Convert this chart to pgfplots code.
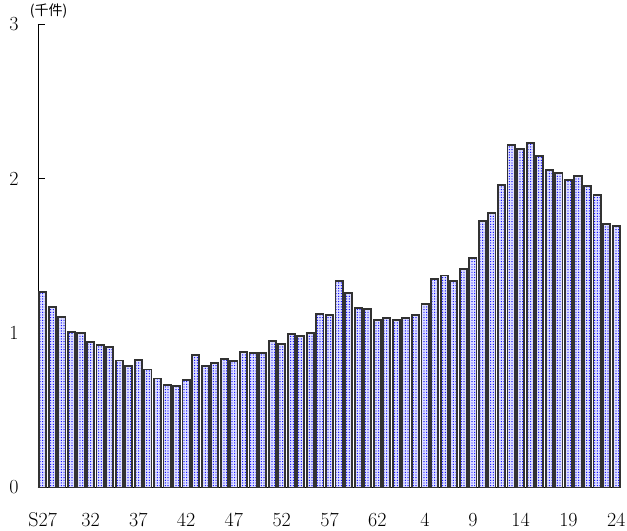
\documentclass[border=0pt]{standalone}
\usepackage{fontspec}
\usepackage{pgfplots}
\pgfplotsset{compat=1.18}
\usetikzlibrary{patterns}
\newfontfamily\cjk{Noto Sans CJK JP}
\definecolor{barfill}{RGB}{225,225,255}
\definecolor{barline}{RGB}{50,50,50}
\pgfdeclarepatternformonly{bluedots}{\pgfqpoint{-1pt}{-1pt}}{\pgfqpoint{1pt}{1pt}}{\pgfqpoint{2pt}{2pt}}{%
  \pgfpathcircle{\pgfqpoint{0pt}{0pt}}{0.5pt}\pgfusepath{fill}}

\pgfplotstableread{
x y
0 1.265
1 1.168
2 1.106
3 1.009
4 0.999
5 0.941
6 0.924
7 0.911
8 0.822
9 0.788
10 0.827
11 0.764
12 0.705
13 0.665
14 0.659
15 0.698
16 0.855
17 0.788
18 0.807
19 0.831
20 0.816
21 0.876
22 0.870
23 0.868
24 0.950
25 0.931
26 0.994
27 0.983
28 0.999
29 1.125
30 1.114
31 1.334
32 1.261
33 1.161
34 1.157
35 1.082
36 1.097
37 1.086
38 1.099
39 1.114
40 1.189
41 1.351
42 1.372
43 1.334
44 1.412
45 1.485
46 1.725
47 1.777
48 1.956
49 2.219
50 2.193
51 2.230
52 2.144
53 2.053
54 2.038
55 1.993
56 2.014
57 1.949
58 1.891
59 1.708
60 1.690
}\cases

\begin{document}
\begin{tikzpicture}
\path[use as bounding box] (-28.5pt,-32.6pt) rectangle (441.75pt,365.6pt);
\begin{axis}[at={(0,0)}, anchor=south west,
  scale only axis, width=437.25pt, height=347.6pt,
  xmin=-0.5, xmax=60.5, ymin=0, ymax=3,
  axis x line=bottom, axis y line=left,
  axis line style={-, black, line width=0.6pt},
  xtick={0,5,...,60},
  xticklabels={S27,32,37,42,47,52,57,62,4,9,14,19,24},
  major x tick style={draw=none},
  ytick={0,1,2,3},
  tick align=inside, major tick length=5pt,
  major y tick style={black, line width=0.6pt},
  /pgf/number format/assume math mode=true,
  tick label style={font=\fontsize{15}{17}\selectfont},
  xticklabel style={anchor=center, yshift=-24.5pt},
  yticklabel style={anchor=center, xshift=-18pt},
  clip=false]
\addplot[ybar, bar width=0.75, fill=barfill, draw=barline, line width=1.4pt,
  postaction={pattern=bluedots, pattern color=blue}]
  table[x=x, y=y] {\cases};
\end{axis}
\node[font=\cjk\fontsize{10.5}{12}\selectfont, inner sep=0pt] at (8pt,357pt) {(千件)};
\end{tikzpicture}
\end{document}
